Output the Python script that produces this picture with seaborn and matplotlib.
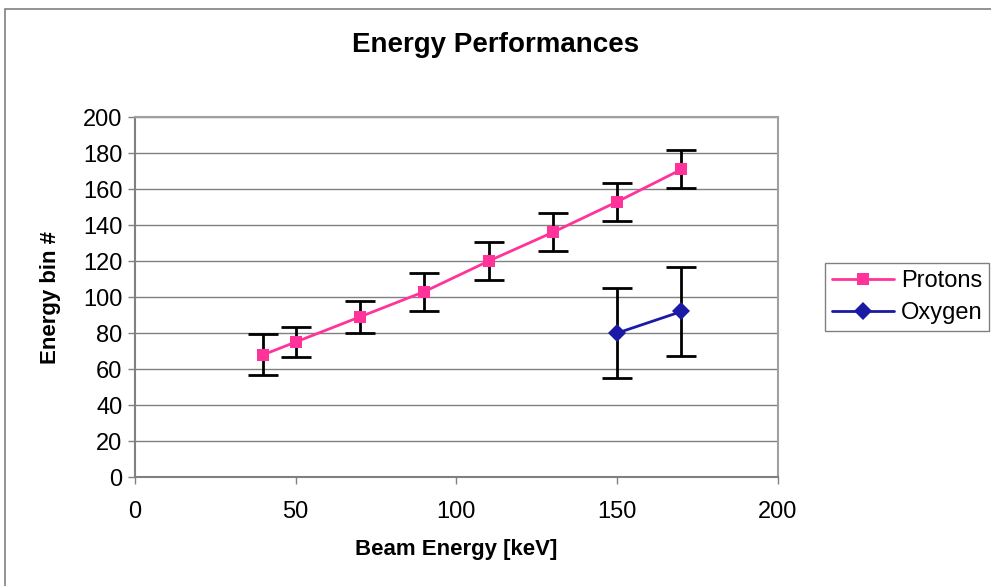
import numpy as np
import pandas as pd
import matplotlib
matplotlib.use("Agg")
import matplotlib.pyplot as plt
import seaborn as sns
from matplotlib.patches import Rectangle

# values
proton_energy = [40, 50, 70, 90, 110, 130, 150, 170]
proton_bin = [68, 75, 89, 103, 120, 136, 153, 171]
proton_err = [11.5, 8.5, 9, 10.5, 10.5, 10.5, 10.5, 10.5]

oxygen_energy = [150, 170]
oxygen_bin = [80, 92]
oxygen_err = [25, 25]

sns.set_style("white")
plt.rcParams['font.family'] = ['Liberation Sans', 'DejaVu Sans']
plt.rcParams['text.color'] = 'black'
plt.rcParams['axes.labelcolor'] = 'black'
plt.rcParams['xtick.labelcolor'] = 'black'
plt.rcParams['ytick.labelcolor'] = 'black'

fig = plt.figure(figsize=(9.91, 5.86), dpi=100)
ax = fig.add_axes([0.136, 0.186, 0.649, 0.614])

df_p = pd.DataFrame({'x': proton_energy, 'y': proton_bin})
df_o = pd.DataFrame({'x': oxygen_energy, 'y': oxygen_bin})

ax.errorbar(proton_energy, proton_bin, yerr=proton_err, fmt='none',
            ecolor='black', elinewidth=2, capsize=11, capthick=2, zorder=2)
ax.errorbar(oxygen_energy, oxygen_bin, yerr=oxygen_err, fmt='none',
            ecolor='black', elinewidth=2, capsize=11, capthick=2, zorder=2)

sns.lineplot(data=df_p, x='x', y='y', ax=ax, color='#ff3399', marker='s',
             markersize=8, markeredgewidth=0, linewidth=2, label='Protons', zorder=3)
sns.lineplot(data=df_o, x='x', y='y', ax=ax, color='#1a1aa6', marker='D',
             markersize=9, markeredgewidth=0, linewidth=2, label='Oxygen', zorder=3)

ax.set_xlim(0, 200)
ax.set_ylim(0, 200)
ax.set_xticks(np.arange(0, 201, 50))
ax.set_yticks(np.arange(0, 201, 20))
ax.yaxis.grid(True, color='#808080', linewidth=1)
ax.set_axisbelow(True)

for s in ['top', 'right']:
    ax.spines[s].set_color('#a0a0a0')
    ax.spines[s].set_linewidth(1.5)
for s in ['left', 'bottom']:
    ax.spines[s].set_color('#808080')
    ax.spines[s].set_linewidth(1.5)

ax.tick_params(axis='x', direction='out', length=5, width=1, color='#808080',
               labelsize=17, pad=12, bottom=True)
ax.tick_params(axis='y', direction='out', length=5, width=1, color='#808080',
               labelsize=17, pad=4, left=True)

ax.set_xlabel('Beam Energy [keV]', fontsize=16, fontweight='bold', labelpad=12)
ax.set_ylabel('Energy bin #', fontsize=16, fontweight='bold', labelpad=16)
fig.suptitle('Energy Performances', fontsize=20, fontweight='bold', y=0.945)

leg = ax.legend(loc='center left', bbox_to_anchor=(1.055, 0.5), fontsize=17,
                frameon=True, fancybox=False, borderpad=0.3, handlelength=2.6,
                handletextpad=0.3, labelspacing=0.45)
leg.get_frame().set_edgecolor('#606060')
leg.get_frame().set_linewidth(1)

fig.patches.append(Rectangle((0.005, -0.01), 1.1, 0.995, transform=fig.transFigure,
                             fill=False, edgecolor='#808080', linewidth=1.2))

fig.savefig('out.png', dpi=100)
